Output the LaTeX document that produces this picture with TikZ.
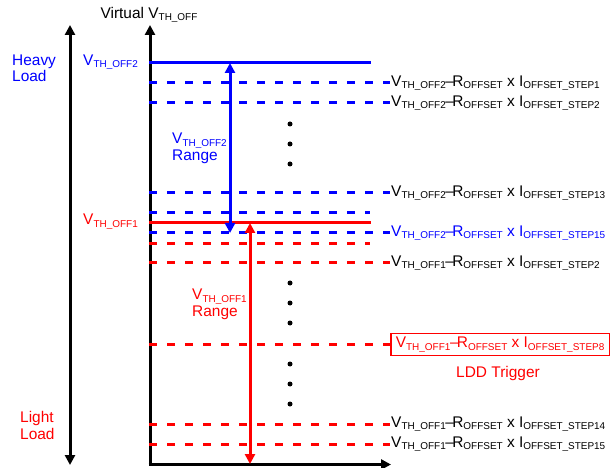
\documentclass[tikz,border=0pt]{standalone}
\usepackage{fontspec}
\setmainfont{Liberation Sans}
\usetikzlibrary{arrows.meta}
\definecolor{myblue}{RGB}{0,0,255}
\definecolor{myred}{RGB}{255,0,0}
\newcommand{\subx}[1]{\raisebox{-2.6pt}{\fontsize{10}{10}\selectfont #1}}
\newcommand{\lblx}[2]{V\subx{TH\_OFF#1}\kern-0.3pt–\kern-1.8pt R\subx{OFFSET} x I\subx{OFFSET\_STEP#2}}
\begin{document}
\begin{tikzpicture}[x=1bp,y=-1bp,
  txt/.style={font=\fontsize{15.5}{18}\selectfont, inner sep=0pt},
  lbl/.style={txt, anchor=west, inner sep=1bp},
  axisline/.style={line width=3bp, -{Triangle[length=10bp,width=10bp]}},
  dashb/.style={myblue, line width=3bp, dash pattern=on 7.5bp off 10.5bp},
  dashr/.style={myred, line width=3bp, dash pattern=on 7.5bp off 10.5bp},
  solb/.style={myblue, line width=3bp},
  solr/.style={myred, line width=3bp},
  rangearrow/.style={line width=3bp, {Triangle[length=10bp,width=10bp]}-{Triangle[length=10bp,width=10bp]}},
  dotn/.style={circle, fill=black, inner sep=0pt, minimum size=5bp}
]
\useasboundingbox (0,0) rectangle (616,468);

% axes
\coordinate (o) at (150,464.5);
\coordinate (ytop) at (150,25);
\coordinate (xend) at (391,464.5);
\draw[axisline] ([yshift=1.5bp]o) -- (ytop);
\draw[axisline] ([xshift=-1.5bp]o) -- (xend);
\coordinate (ltop) at (70,25);
\coordinate (lbot) at (70,465);
\draw[line width=3bp, {Triangle[length=10bp,width=10bp]}-{Triangle[length=10bp,width=10bp]}] (lbot) -- (ltop);

% title
\node[txt] (title) at (149,15) {Virtual V\subx{TH\_OFF}};

% left labels
\node[txt, myblue, anchor=west, align=left] (heavy) at (12,68.5) {Heavy\\[-1.5pt]Load};
\node[txt, myred, anchor=west, align=left] (light) at (20,425.5) {Light\\[-1.5pt]Load};
\node[txt, myblue, anchor=east] (v2) at (138,62) {V\subx{TH\_OFF2}};
\node[txt, myred, anchor=east] (v1) at (138,221.5) {V\subx{TH\_OFF1}};

% solid lines
\coordinate (s2a) at (149,63); \coordinate (s2b) at (371,63);
\draw[solb] (s2a) -- (s2b);
\coordinate (s1a) at (149,223); \coordinate (s1b) at (371,223);
\draw[solr] (s1a) -- (s1b);

% right labels and dashed lines
\node[lbl] (b1) at (390,83) {\lblx{2}{1}};
\coordinate (b1a) at (149,83);
\draw[dashb] (b1a) -- (b1.west);
\node[lbl] (b2) at (390,103) {\lblx{2}{2}};
\coordinate (b2a) at (149,103);
\draw[dashb] (b2a) -- (b2.west);
\node[lbl] (b13) at (390,193) {\lblx{2}{13}};
\coordinate (b13a) at (149,193);
\draw[dashb] (b13a) -- (b13.west);
\coordinate (b14a) at (149,213); \coordinate (b14b) at (370,213);
\draw[dashb] (b14a) -- (b14b);
\node[lbl, myblue] (b15) at (390,233) {\lblx{2}{15}};
\coordinate (b15a) at (149,233);
\draw[dashb] (b15a) -- (b15.west);

\coordinate (r1a) at (149,243.5); \coordinate (r1b) at (370,243.5);
\draw[dashr] (r1a) -- (r1b);
\node[lbl] (r2) at (390,263) {\lblx{1}{2}};
\coordinate (r2a) at (149,263);
\draw[dashr] (r2a) -- (r2.west);
\node[txt, myred, anchor=west, draw=myred, line width=1.6bp, inner xsep=5bp, inner ysep=3.5bp] (r8) at (390,344.5) {\lblx{1}{8}};
\coordinate (r8a) at (149,344);
\draw[dashr] (r8a) -- (r8a -| r8.west);
\node[txt, myred] (ldd) at (498,374) {LDD Trigger};
\node[lbl] (r14) at (390,424) {\lblx{1}{14}};
\coordinate (r14a) at (149,424);
\draw[dashr] (r14a) -- (r14.west);
\node[lbl] (r15) at (390,444) {\lblx{1}{15}};
\coordinate (r15a) at (149,444);
\draw[dashr] (r15a) -- (r15.west);

% dots
\foreach \y [count=\i] in {124,144,164,283,303,323,364,384,404}
  \node[dotn] (d\i) at (290,\y) {};

% range arrows
\coordinate (ba) at (230,63); \coordinate (bb) at (230,233);
\draw[rangearrow, myblue] (bb) -- (ba);
\coordinate (ra) at (250,223); \coordinate (rb) at (250,464);
\draw[rangearrow, myred] (rb) -- (ra);

% range labels
\node[txt, myblue, anchor=west, align=left] (rng2) at (172,148.5) {V\subx{TH\_OFF2}\\[-1.5pt]Range};
\node[txt, myred, anchor=west, align=left] (rng1) at (192,304.5) {V\subx{TH\_OFF1}\\[-1.5pt]Range};
\end{tikzpicture}
\end{document}
